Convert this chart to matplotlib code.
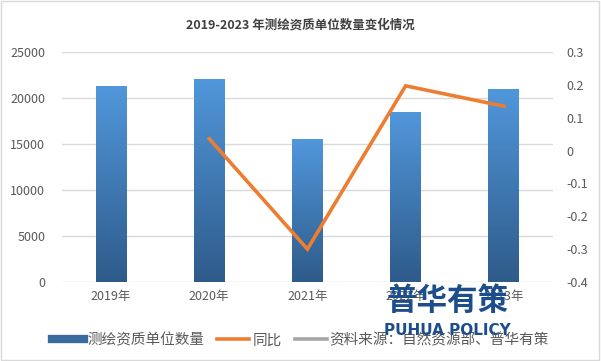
import numpy as np
import matplotlib.pyplot as plt
import matplotlib as mpl
from matplotlib.lines import Line2D
from matplotlib.colors import LinearSegmentedColormap

plt.rcParams['font.family'] = ['Noto Sans CJK SC', 'DejaVu Sans']

years = ['2019年', '2020年', '2021年', '2022年', '2023年']
counts = [21300, 22060, 15440, 18480, 20980]
yoy_years = ['2020年', '2021年', '2022年', '2023年']
yoy = [0.036, -0.30, 0.197, 0.135]

title = '2019-2023 年测绘资质单位数量变化情况'
bar_label = '测绘资质单位数量'
line_label = '同比'
source_label = '资料来源：自然资源部、普华有策'

fig = plt.figure(figsize=(6.01, 3.61), dpi=100)
ax = fig.add_axes([0.103, 0.219, 0.817, 0.637])
ax2 = ax.twinx()

x = np.arange(len(years))
bars = ax.bar(x, counts, width=0.315, color='none', edgecolor='none', zorder=2)

# gradient fill for each bar (light blue top -> dark blue bottom)
cmap = LinearSegmentedColormap.from_list('bluegrad', ['#2E5B8A', '#5197DB'])
grad = np.linspace(0, 1, 256).reshape(-1, 1)
for b in bars:
    x0, w, h = b.get_x(), b.get_width(), b.get_height()
    ax.imshow(grad, extent=[x0, x0 + w, 0, h], origin='lower', aspect='auto',
              cmap=cmap, zorder=2)

ax.set_xlim(-0.5, len(years) - 0.5)
ax.set_ylim(0, 25000)
ax.set_yticks(np.arange(0, 25001, 5000))
ax.set_xticks(x)
ax.set_xticklabels(years)
ax.grid(axis='y', color='#D9D9D9', linewidth=1)
ax.set_axisbelow(True)

ax2.plot([years.index(y) for y in yoy_years], yoy, color='#ED7D31', linewidth=2.6,
         solid_joinstyle='miter', zorder=3)
ax2.set_ylim(-0.4, 0.3)
ax2.set_yticks(np.round(np.arange(-0.4, 0.31, 0.1), 1))
ax2.set_yticklabels(['-0.4', '-0.3', '-0.2', '-0.1', '0', '0.1', '0.2', '0.3'])

for a in (ax, ax2):
    for s in a.spines.values():
        s.set_visible(False)
    a.tick_params(length=0, labelsize=9, colors='#595959')
ax.tick_params(axis='y', pad=12)
ax2.tick_params(axis='y', pad=10)
ax.tick_params(axis='x', pad=6)

fig.text(0.5, 0.93, title, ha='center', va='center', fontsize=9,
         fontweight='bold', color='#404040')

handles = [Line2D([], [], color='#3A6B9F', linewidth=6),
           Line2D([], [], color='#ED7D31', linewidth=2.6),
           Line2D([], [], color='#A5A5A5', linewidth=2.6)]
fig.legend(handles, [bar_label, line_label, source_label], loc='center',
           bbox_to_anchor=(0.5, 0.058), ncol=3, frameon=False, fontsize=10.5,
           handlelength=2.2, handletextpad=0.2, columnspacing=0.9,
           labelcolor='#595959')

# watermark
fig.text(0.745, 0.165, '普华有策', ha='center', va='center', fontsize=22,
         fontweight='bold', color='#1D4E8C', zorder=10)
fig.text(0.745, 0.085, 'PUHUA POLICY', ha='center', va='center', fontsize=11,
         fontweight='bold', color='#1D4E8C', family='Liberation Sans Narrow', zorder=10)

fig.patches.append(mpl.patches.Rectangle((0.002, 0.003), 0.995, 0.993, transform=fig.transFigure,
                                         fill=False, edgecolor='#D9D9D9', linewidth=1))

fig.savefig('out.png', dpi=100)
